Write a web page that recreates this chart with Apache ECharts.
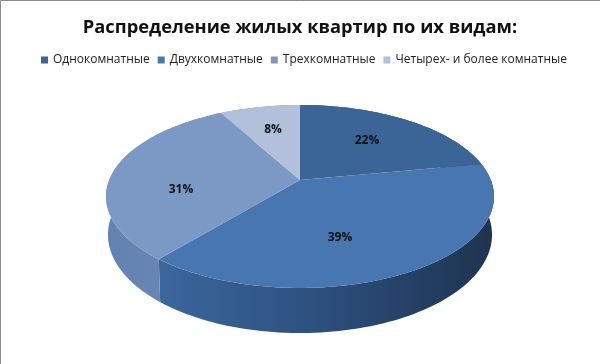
<!DOCTYPE html>
<html><head><meta charset="utf-8">
<style>html,body{margin:0;padding:0;background:#fff}#c{width:600px;height:364px}</style>
<script src="https://cdn.jsdelivr.net/npm/echarts@6/dist/echarts.min.js"></script>
</head><body><div id="c"></div>
<script>
const categories = ['Однокомнатные','Двухкомнатные','Трехкомнатные','Четырех- и более комнатные'];
const values = [22, 39, 31, 8];
const topColors = ['#3b6596','#4776b0','#7c99c6','#b2c0db'];
const wallStops = [
  ['#1e3350','#1e3350'],
  ['#3b679d','#2c4e7c','#1e3350'],
  ['#6482b0','#6c8ab8'],
  ['#8090a8','#8090a8']
];

// perspective view of a flat disc
const CX = 300, CY = 180, X = 190.8, Y = 88.5, K = 0.18, DEPTH = 37, BOTTOM_SCALE = 0.99;
function rim(angleDeg, drop, scale) {
  const a = angleDeg * Math.PI / 180, u = Math.sin(a), v = -Math.cos(a), w = 1 - K * v;
  return [CX + scale * X * u / w, CY + (Y * v + drop) / w];
}
function arc(a0, a1, drop, scale) {
  const out = [], n = Math.max(2, Math.ceil((a1 - a0) / 1.5));
  for (let i = 0; i <= n; i++) out.push(rim(a0 + (a1 - a0) * i / n, drop, scale));
  return out;
}
const total = values.reduce((s, x) => s + x, 0);
const starts = values.map((_, i) => values.slice(0, i).reduce((s, x) => s + x, 0) / total * 360);
const labelPos = [[367,141],[340,238],[181,190],[273,130]];

function gradient(stops) {
  return new echarts.graphic.LinearGradient(0, 0, 1, 0,
    stops.map((c, i) => ({offset: i / Math.max(1, stops.length - 1), color: c})));
}
const series = categories.map((name, i) => ({
  type: 'custom', name, coordinateSystem: 'none', silent: true,
  itemStyle: {color: topColors[i]},
  data: [values[i]],
  renderItem(params, api) {
    const a0 = starts[i], a1 = a0 + api.value(0) / total * 360;
    const topArc = arc(a0, a1, 0, 1), botArc = arc(a0, a1, DEPTH, BOTTOM_SCALE);
    return {type: 'group', children: [
      {type: 'polygon', z2: 1, shape: {points: topArc.concat(botArc.reverse())},
       style: {fill: gradient(wallStops[i])}},
      {type: 'polygon', z2: 5, shape: {points: [[CX, CY]].concat(topArc)},
       style: {fill: topColors[i]}},
      {type: 'text', z2: 9, x: labelPos[i][0], y: labelPos[i][1],
       style: {text: api.value(0) + '%', fill: '#111', align: 'center', verticalAlign: 'middle',
               font: 'bold 12px "Open Sans", sans-serif'}}
    ]};
  }
}));

const chart = echarts.init(document.getElementById('c'), null, {renderer: 'canvas'});
chart.setOption({
  animation: false, backgroundColor: '#fff',
  title: {text: 'Распределение жилых квартир по их видам:', left: 'center', top: 14,
    textStyle: {fontFamily: '"Open Sans", sans-serif', fontWeight: 'bold', fontSize: 18.3, color: '#111'}},
  legend: {top: 49, left: 36, itemWidth: 7, itemHeight: 7, itemGap: 8, icon: 'rect',
    data: categories,
    textStyle: {fontFamily: '"Open Sans", sans-serif', fontSize: 12, color: '#222'}},
  series,
  graphic: [{type: 'rect', silent: true, z: 100, shape: {x: 0.5, y: 0.5, width: 700, height: 500},
    style: {fill: null, stroke: '#8a8a8a', lineWidth: 1}}]
});
</script></body></html>
